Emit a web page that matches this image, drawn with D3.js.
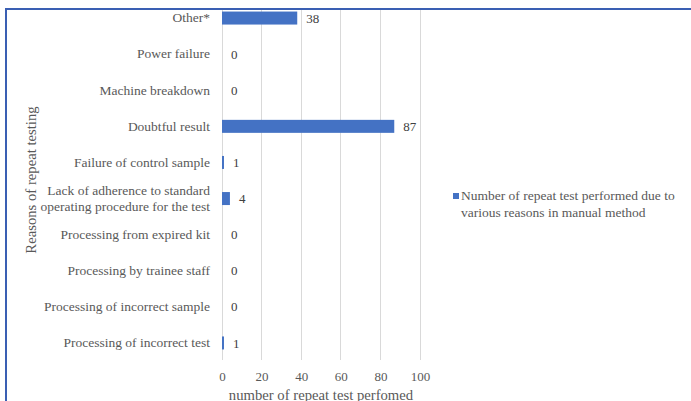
<!DOCTYPE html>
<html><head><meta charset="utf-8">
<script src="https://cdn.jsdelivr.net/npm/d3@7"></script>
<style>body{margin:0;background:#fff}svg{display:block}</style>
</head><body>
<svg id="c" width="691" height="401"></svg>
<script>
const categories = ["Other*","Power failure","Machine breakdown","Doubtful result","Failure of control sample","Lack of adherence to standard|operating procedure for the test","Processing from expired kit","Processing by trainee staff","Processing of incorrect sample","Processing of incorrect test"];
const values = [38,0,0,87,1,4,0,0,0,1];
const xTicks = [0,20,40,60,80,100];
const seriesName = ["Number of repeat test performed due to","various reasons in manual method"];
const xTitle = "number of repeat test perfomed";
const yTitle = "Reasons of repeat testing";

const svg = d3.select("#c");
const FONT = '"Liberation Serif"';
const grey = "#595959";
const barColor = "#4472c4";

const x = d3.scaleLinear().domain([0,100]).range([222,420]);
const y = d3.scaleBand().domain(categories).range([0,361]).paddingInner(0.64).paddingOuter(0.32);

// gridlines
svg.append("g").selectAll("line").data(xTicks).join("line")
  .attr("x1",d=>x(d)).attr("x2",d=>x(d)).attr("y1",9).attr("y2",360)
  .attr("stroke","#d9d9d9").attr("stroke-width",1).attr("shape-rendering","crispEdges");

// x axis labels
const xa = svg.append("g").attr("transform","translate(0,360)")
  .call(d3.axisBottom(x).tickValues(xTicks).tickSize(0).tickPadding(12));
xa.select(".domain").remove();
xa.selectAll("text").style("font-family",FONT).style("font-size","13px").attr("fill",grey);

// y axis labels
const ya = svg.append("g").attr("transform","translate(222,0)")
  .call(d3.axisLeft(y).tickSize(0).tickPadding(12));
ya.select(".domain").remove();
ya.selectAll("text").style("font-family",FONT).style("font-size","13.5px").attr("fill",grey)
  .each(function(d){
    const parts = d.split("|");
    const t = d3.select(this).text(null).attr("dy",null);
    parts.forEach((p,i)=>{
      t.append("tspan").attr("x",-12).attr("dy", i===0 ? (parts.length>1 ? "-0.27em" : "0.32em") : "1.19em").text(p);
    });
  });

// bars
svg.append("g").selectAll("rect").data(values).join("rect")
  .attr("x",x(0)).attr("y",(d,i)=>y(categories[i]))
  .attr("width",d=>x(d)-x(0)).attr("height",y.bandwidth())
  .attr("fill",barColor);

// value labels
svg.append("g").selectAll("text").data(values).join("text")
  .attr("x",d=>x(d)+9).attr("y",(d,i)=>y(categories[i])+y.bandwidth()/2)
  .attr("dy","0.35em").style("font-family",FONT).style("font-size","13px").attr("fill","#404040")
  .text(d=>d);

// x title
svg.append("text").attr("x",(x(0)+x(100))/2).attr("y",400).attr("text-anchor","middle")
  .style("font-family",FONT).style("font-size","14.7px").attr("fill",grey).text(xTitle);

// y title
svg.append("text").attr("transform","translate(36,180) rotate(-90)").attr("text-anchor","middle")
  .style("font-family",FONT).style("font-size","14.7px").attr("fill",grey).text(yTitle);

// legend
const lg = svg.append("g");
lg.append("rect").attr("x",453).attr("y",193).attr("width",6).attr("height",6).attr("fill",barColor);
lg.selectAll("text").data(seriesName).join("text")
  .attr("x",461).attr("y",(d,i)=>200+i*16.5).style("font-family",FONT).style("font-size","13.5px").attr("fill",grey).text(d=>d);

// border
svg.append("path").attr("d","M6,401 V9 H691").attr("fill","none").attr("stroke","#3a5fb3").attr("stroke-width",2);
</script>
</body></html>
